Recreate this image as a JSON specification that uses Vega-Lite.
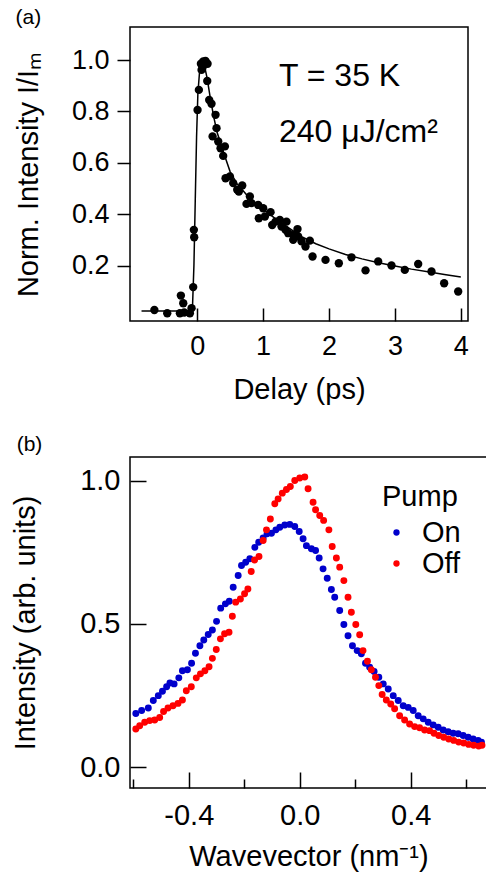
{
  "$schema": "https://vega.github.io/schema/vega-lite/v6.json",
  "padding": {"left": 10, "top": 6, "right": 0, "bottom": 0},
  "spacing": 28,
  "resolve": {"legend": {"color": "independent"}},
  "config": {
    "font": "Liberation Sans",
    "view": {"stroke": "black", "strokeWidth": 1.5},
    "axis": {
      "grid": false,
      "domain": false,
      "tickColor": "black",
      "tickWidth": 1.5,
      "labelColor": "black",
      "labelFont": "Liberation Sans",
      "labelFontSize": 27,
      "titleColor": "black",
      "titleFont": "Liberation Sans",
      "titleFontSize": 29,
      "titleFontWeight": "normal"
    },
    "legend": {
      "labelFont": "Liberation Sans",
      "titleFont": "Liberation Sans",
      "labelColor": "black",
      "titleColor": "black"
    },
    "title": {"font": "Liberation Sans", "fontSize": 21, "fontWeight": "normal", "color": "black", "anchor": "start"}
  },
  "datasets": {
    "decay_points": [
      {"delay": -0.65, "norm": 0.027}, {"delay": -0.455, "norm": 0.014}, {"delay": -0.263, "norm": 0.014},
      {"delay": -0.248, "norm": 0.083}, {"delay": -0.212, "norm": 0.053}, {"delay": -0.197, "norm": 0.017},
      {"delay": -0.111, "norm": 0.014}, {"delay": -0.086, "norm": 0.034}, {"delay": -0.061, "norm": 0.116},
      {"delay": -0.051, "norm": 0.339}, {"delay": -0.046, "norm": 0.31}, {"delay": 0.005, "norm": 0.806},
      {"delay": 0.025, "norm": 0.884}, {"delay": 0.056, "norm": 0.986}, {"delay": 0.066, "norm": 0.962},
      {"delay": 0.08, "norm": 0.97}, {"delay": 0.091, "norm": 0.995}, {"delay": 0.11, "norm": 0.985},
      {"delay": 0.126, "norm": 0.997}, {"delay": 0.157, "norm": 0.986}, {"delay": 0.152, "norm": 0.919},
      {"delay": 0.182, "norm": 0.845}, {"delay": 0.217, "norm": 0.83}, {"delay": 0.233, "norm": 0.703},
      {"delay": 0.278, "norm": 0.787}, {"delay": 0.293, "norm": 0.735}, {"delay": 0.319, "norm": 0.683},
      {"delay": 0.354, "norm": 0.657}, {"delay": 0.394, "norm": 0.627}, {"delay": 0.42, "norm": 0.664},
      {"delay": 0.43, "norm": 0.54}, {"delay": 0.496, "norm": 0.547}, {"delay": 0.546, "norm": 0.521},
      {"delay": 0.607, "norm": 0.495}, {"delay": 0.632, "norm": 0.488}, {"delay": 0.683, "norm": 0.512},
      {"delay": 0.748, "norm": 0.44}, {"delay": 0.799, "norm": 0.469}, {"delay": 0.824, "norm": 0.443},
      {"delay": 0.925, "norm": 0.436}, {"delay": 0.935, "norm": 0.384}, {"delay": 1.001, "norm": 0.423},
      {"delay": 1.027, "norm": 0.391}, {"delay": 1.113, "norm": 0.408}, {"delay": 1.138, "norm": 0.358},
      {"delay": 1.188, "norm": 0.371}, {"delay": 1.254, "norm": 0.378}, {"delay": 1.279, "norm": 0.352},
      {"delay": 1.34, "norm": 0.339}, {"delay": 1.355, "norm": 0.371}, {"delay": 1.381, "norm": 0.326},
      {"delay": 1.456, "norm": 0.3}, {"delay": 1.466, "norm": 0.319}, {"delay": 1.522, "norm": 0.342},
      {"delay": 1.532, "norm": 0.313}, {"delay": 1.583, "norm": 0.294}, {"delay": 1.643, "norm": 0.274},
      {"delay": 1.709, "norm": 0.297}, {"delay": 1.75, "norm": 0.235}, {"delay": 1.947, "norm": 0.222},
      {"delay": 2.149, "norm": 0.209}, {"delay": 2.341, "norm": 0.232}, {"delay": 2.554, "norm": 0.181},
      {"delay": 2.746, "norm": 0.216}, {"delay": 2.948, "norm": 0.2}, {"delay": 3.15, "norm": 0.183},
      {"delay": 3.353, "norm": 0.206}, {"delay": 3.555, "norm": 0.177}, {"delay": 3.747, "norm": 0.131},
      {"delay": 3.96, "norm": 0.099}
    ],
    "decay_fit": [
      {"delay": -0.845, "norm": 0.023}, {"delay": -0.1, "norm": 0.023}, {"delay": -0.07, "norm": 0.05},
      {"delay": -0.05, "norm": 0.2}, {"delay": -0.03, "norm": 0.45}, {"delay": -0.01, "norm": 0.7},
      {"delay": 0.01, "norm": 0.87}, {"delay": 0.04, "norm": 0.97}, {"delay": 0.07, "norm": 1.0},
      {"delay": 0.1, "norm": 0.99}, {"delay": 0.15, "norm": 0.93}, {"delay": 0.2, "norm": 0.85},
      {"delay": 0.25, "norm": 0.78}, {"delay": 0.3, "norm": 0.72}, {"delay": 0.4, "norm": 0.64},
      {"delay": 0.5, "norm": 0.565}, {"delay": 0.6, "norm": 0.52}, {"delay": 0.7, "norm": 0.49},
      {"delay": 0.8, "norm": 0.46}, {"delay": 0.9, "norm": 0.44}, {"delay": 1.0, "norm": 0.42},
      {"delay": 1.2, "norm": 0.38}, {"delay": 1.4, "norm": 0.345}, {"delay": 1.6, "norm": 0.31},
      {"delay": 1.8, "norm": 0.285}, {"delay": 2.0, "norm": 0.265}, {"delay": 2.25, "norm": 0.243},
      {"delay": 2.5, "norm": 0.226}, {"delay": 2.75, "norm": 0.211}, {"delay": 3.0, "norm": 0.198},
      {"delay": 3.25, "norm": 0.186}, {"delay": 3.5, "norm": 0.176}, {"delay": 3.75, "norm": 0.165},
      {"delay": 4.0, "norm": 0.155}
    ],
    "mdc": [
      {"k": -0.591, "intensity": 0.188, "pump": "On"}, {"k": -0.57, "intensity": 0.198, "pump": "On"},
      {"k": -0.546, "intensity": 0.207, "pump": "On"}, {"k": -0.528, "intensity": 0.233, "pump": "On"},
      {"k": -0.51, "intensity": 0.25, "pump": "On"}, {"k": -0.495, "intensity": 0.265, "pump": "On"},
      {"k": -0.48, "intensity": 0.281, "pump": "On"}, {"k": -0.468, "intensity": 0.294, "pump": "On"},
      {"k": -0.453, "intensity": 0.291, "pump": "On"}, {"k": -0.436, "intensity": 0.312, "pump": "On"},
      {"k": -0.423, "intensity": 0.337, "pump": "On"}, {"k": -0.405, "intensity": 0.34, "pump": "On"},
      {"k": -0.39, "intensity": 0.363, "pump": "On"}, {"k": -0.376, "intensity": 0.398, "pump": "On"},
      {"k": -0.36, "intensity": 0.424, "pump": "On"}, {"k": -0.346, "intensity": 0.444, "pump": "On"},
      {"k": -0.33, "intensity": 0.463, "pump": "On"}, {"k": -0.315, "intensity": 0.479, "pump": "On"},
      {"k": -0.3, "intensity": 0.509, "pump": "On"}, {"k": -0.285, "intensity": 0.555, "pump": "On"},
      {"k": -0.268, "intensity": 0.57, "pump": "On"}, {"k": -0.254, "intensity": 0.579, "pump": "On"},
      {"k": -0.24, "intensity": 0.628, "pump": "On"}, {"k": -0.222, "intensity": 0.669, "pump": "On"},
      {"k": -0.21, "intensity": 0.704, "pump": "On"}, {"k": -0.195, "intensity": 0.715, "pump": "On"},
      {"k": -0.18, "intensity": 0.727, "pump": "On"}, {"k": -0.162, "intensity": 0.767, "pump": "On"},
      {"k": -0.148, "intensity": 0.785, "pump": "On"}, {"k": -0.132, "intensity": 0.8, "pump": "On"},
      {"k": -0.118, "intensity": 0.814, "pump": "On"}, {"k": -0.102, "intensity": 0.816, "pump": "On"},
      {"k": -0.086, "intensity": 0.828, "pump": "On"}, {"k": -0.072, "intensity": 0.837, "pump": "On"},
      {"k": -0.054, "intensity": 0.845, "pump": "On"}, {"k": -0.036, "intensity": 0.847, "pump": "On"},
      {"k": -0.018, "intensity": 0.84, "pump": "On"}, {"k": -0.002, "intensity": 0.822, "pump": "On"},
      {"k": 0.012, "intensity": 0.797, "pump": "On"}, {"k": 0.024, "intensity": 0.773, "pump": "On"},
      {"k": 0.042, "intensity": 0.762, "pump": "On"}, {"k": 0.057, "intensity": 0.756, "pump": "On"},
      {"k": 0.07, "intensity": 0.73, "pump": "On"}, {"k": 0.084, "intensity": 0.692, "pump": "On"},
      {"k": 0.099, "intensity": 0.659, "pump": "On"}, {"k": 0.114, "intensity": 0.62, "pump": "On"},
      {"k": 0.126, "intensity": 0.593, "pump": "On"}, {"k": 0.144, "intensity": 0.547, "pump": "On"},
      {"k": 0.159, "intensity": 0.498, "pump": "On"}, {"k": 0.174, "intensity": 0.459, "pump": "On"},
      {"k": 0.19, "intensity": 0.424, "pump": "On"}, {"k": 0.207, "intensity": 0.407, "pump": "On"},
      {"k": 0.222, "intensity": 0.396, "pump": "On"}, {"k": 0.237, "intensity": 0.363, "pump": "On"},
      {"k": 0.252, "intensity": 0.349, "pump": "On"}, {"k": 0.268, "intensity": 0.334, "pump": "On"},
      {"k": 0.285, "intensity": 0.314, "pump": "On"}, {"k": 0.301, "intensity": 0.291, "pump": "On"},
      {"k": 0.319, "intensity": 0.273, "pump": "On"}, {"k": 0.337, "intensity": 0.25, "pump": "On"},
      {"k": 0.355, "intensity": 0.233, "pump": "On"}, {"k": 0.373, "intensity": 0.215, "pump": "On"},
      {"k": 0.391, "intensity": 0.209, "pump": "On"}, {"k": 0.409, "intensity": 0.198, "pump": "On"},
      {"k": 0.427, "intensity": 0.18, "pump": "On"}, {"k": 0.445, "intensity": 0.169, "pump": "On"},
      {"k": 0.463, "intensity": 0.157, "pump": "On"}, {"k": 0.481, "intensity": 0.148, "pump": "On"},
      {"k": 0.499, "intensity": 0.14, "pump": "On"}, {"k": 0.517, "intensity": 0.13, "pump": "On"},
      {"k": 0.535, "intensity": 0.124, "pump": "On"}, {"k": 0.553, "intensity": 0.119, "pump": "On"},
      {"k": 0.571, "intensity": 0.117, "pump": "On"}, {"k": 0.589, "intensity": 0.111, "pump": "On"},
      {"k": 0.607, "intensity": 0.105, "pump": "On"}, {"k": 0.625, "intensity": 0.099, "pump": "On"},
      {"k": 0.643, "intensity": 0.094, "pump": "On"}, {"k": 0.655, "intensity": 0.088, "pump": "On"},
      {"k": -0.591, "intensity": 0.134, "pump": "Off"}, {"k": -0.577, "intensity": 0.145, "pump": "Off"},
      {"k": -0.559, "intensity": 0.157, "pump": "Off"}, {"k": -0.541, "intensity": 0.163, "pump": "Off"},
      {"k": -0.523, "intensity": 0.165, "pump": "Off"}, {"k": -0.505, "intensity": 0.174, "pump": "Off"},
      {"k": -0.491, "intensity": 0.195, "pump": "Off"}, {"k": -0.475, "intensity": 0.207, "pump": "Off"},
      {"k": -0.457, "intensity": 0.215, "pump": "Off"}, {"k": -0.439, "intensity": 0.223, "pump": "Off"},
      {"k": -0.423, "intensity": 0.235, "pump": "Off"}, {"k": -0.409, "intensity": 0.267, "pump": "Off"},
      {"k": -0.391, "intensity": 0.281, "pump": "Off"}, {"k": -0.373, "intensity": 0.312, "pump": "Off"},
      {"k": -0.358, "intensity": 0.326, "pump": "Off"}, {"k": -0.342, "intensity": 0.337, "pump": "Off"},
      {"k": -0.327, "intensity": 0.351, "pump": "Off"}, {"k": -0.315, "intensity": 0.38, "pump": "Off"},
      {"k": -0.301, "intensity": 0.411, "pump": "Off"}, {"k": -0.286, "intensity": 0.448, "pump": "Off"},
      {"k": -0.271, "intensity": 0.466, "pump": "Off"}, {"k": -0.255, "intensity": 0.471, "pump": "Off"},
      {"k": -0.243, "intensity": 0.527, "pump": "Off"}, {"k": -0.231, "intensity": 0.576, "pump": "Off"},
      {"k": -0.214, "intensity": 0.587, "pump": "Off"}, {"k": -0.199, "intensity": 0.605, "pump": "Off"},
      {"k": -0.187, "intensity": 0.622, "pump": "Off"}, {"k": -0.175, "intensity": 0.683, "pump": "Off"},
      {"k": -0.163, "intensity": 0.723, "pump": "Off"}, {"k": -0.147, "intensity": 0.735, "pump": "Off"},
      {"k": -0.132, "intensity": 0.791, "pump": "Off"}, {"k": -0.12, "intensity": 0.828, "pump": "Off"},
      {"k": -0.106, "intensity": 0.866, "pump": "Off"}, {"k": -0.09, "intensity": 0.919, "pump": "Off"},
      {"k": -0.078, "intensity": 0.936, "pump": "Off"}, {"k": -0.063, "intensity": 0.956, "pump": "Off"},
      {"k": -0.048, "intensity": 0.969, "pump": "Off"}, {"k": -0.034, "intensity": 0.979, "pump": "Off"},
      {"k": -0.018, "intensity": 1.0, "pump": "Off"}, {"k": 0.0, "intensity": 1.009, "pump": "Off"},
      {"k": 0.018, "intensity": 1.012, "pump": "Off"}, {"k": 0.03, "intensity": 0.971, "pump": "Off"},
      {"k": 0.048, "intensity": 0.924, "pump": "Off"}, {"k": 0.057, "intensity": 0.898, "pump": "Off"},
      {"k": 0.072, "intensity": 0.878, "pump": "Off"}, {"k": 0.086, "intensity": 0.861, "pump": "Off"},
      {"k": 0.105, "intensity": 0.828, "pump": "Off"}, {"k": 0.117, "intensity": 0.77, "pump": "Off"},
      {"k": 0.132, "intensity": 0.73, "pump": "Off"}, {"k": 0.144, "intensity": 0.698, "pump": "Off"},
      {"k": 0.159, "intensity": 0.651, "pump": "Off"}, {"k": 0.174, "intensity": 0.593, "pump": "Off"},
      {"k": 0.186, "intensity": 0.541, "pump": "Off"}, {"k": 0.202, "intensity": 0.498, "pump": "Off"},
      {"k": 0.216, "intensity": 0.462, "pump": "Off"}, {"k": 0.228, "intensity": 0.407, "pump": "Off"},
      {"k": 0.244, "intensity": 0.37, "pump": "Off"}, {"k": 0.258, "intensity": 0.34, "pump": "Off"},
      {"k": 0.273, "intensity": 0.314, "pump": "Off"}, {"k": 0.285, "intensity": 0.285, "pump": "Off"},
      {"k": 0.297, "intensity": 0.254, "pump": "Off"}, {"k": 0.312, "intensity": 0.235, "pump": "Off"},
      {"k": 0.328, "intensity": 0.221, "pump": "Off"}, {"k": 0.342, "intensity": 0.204, "pump": "Off"},
      {"k": 0.36, "intensity": 0.18, "pump": "Off"}, {"k": 0.378, "intensity": 0.165, "pump": "Off"},
      {"k": 0.396, "intensity": 0.151, "pump": "Off"}, {"k": 0.414, "intensity": 0.142, "pump": "Off"},
      {"k": 0.432, "intensity": 0.138, "pump": "Off"}, {"k": 0.45, "intensity": 0.13, "pump": "Off"},
      {"k": 0.468, "intensity": 0.128, "pump": "Off"}, {"k": 0.484, "intensity": 0.119, "pump": "Off"},
      {"k": 0.501, "intensity": 0.111, "pump": "Off"}, {"k": 0.519, "intensity": 0.105, "pump": "Off"},
      {"k": 0.537, "intensity": 0.099, "pump": "Off"}, {"k": 0.555, "intensity": 0.094, "pump": "Off"},
      {"k": 0.573, "intensity": 0.088, "pump": "Off"}, {"k": 0.591, "intensity": 0.085, "pump": "Off"},
      {"k": 0.609, "intensity": 0.08, "pump": "Off"}, {"k": 0.627, "intensity": 0.077, "pump": "Off"},
      {"k": 0.645, "intensity": 0.074, "pump": "Off"}, {"k": 0.657, "intensity": 0.077, "pump": "Off"}
    ]
  },
  "vconcat": [
    {
      "title": {"text": "(a)", "dx": 1, "offset": -22, "baseline": "bottom"},
      "width": 338,
      "height": 294,
      "layer": [
        {
          "data": {"name": "decay_fit"},
          "mark": {"type": "line", "color": "black", "strokeWidth": 1.5},
          "encoding": {
            "x": {
              "field": "delay",
              "type": "quantitative",
              "scale": {"domain": [-1.02, 4.109], "nice": false, "zero": false},
              "axis": {"values": [0, 1, 2, 3, 4], "format": "d", "tickSize": -13, "labelPadding": 25, "title": "Delay (ps)", "titlePadding": 16}
            },
            "y": {
              "field": "norm",
              "type": "quantitative",
              "scale": {"domain": [-0.016, 1.129], "nice": false, "zero": false},
              "axis": {"values": [0.2, 0.4, 0.6, 0.8, 1.0], "format": ".1f", "tickSize": 13, "labelPadding": 8, "title": "Norm. Intensity I/Iₘ", "titlePadding": 28}
            }
          }
        },
        {
          "data": {"name": "decay_points"},
          "mark": {"type": "circle", "color": "black", "size": 70, "opacity": 1},
          "encoding": {
            "x": {"field": "delay", "type": "quantitative"},
            "y": {"field": "norm", "type": "quantitative"}
          }
        },
        {
          "data": {"values": [{"label": "T = 35 K"}]},
          "mark": {"type": "text", "align": "left", "baseline": "alphabetic", "fontSize": 32, "color": "black"},
          "encoding": {"x": {"datum": 1.24}, "y": {"datum": 0.9}, "text": {"field": "label"}}
        },
        {
          "data": {"values": [{"label": "240 μJ/cm²"}]},
          "mark": {"type": "text", "align": "left", "baseline": "alphabetic", "fontSize": 32, "color": "black"},
          "encoding": {"x": {"datum": 1.24}, "y": {"datum": 0.68}, "text": {"field": "label"}}
        }
      ]
    },
    {
      "title": {"text": "(b)", "dx": 5, "offset": -19, "baseline": "bottom"},
      "width": 357,
      "height": 331,
      "data": {"name": "mdc"},
      "mark": {"type": "circle", "size": 48, "opacity": 1},
      "encoding": {
        "x": {
          "field": "k",
          "type": "quantitative",
          "scale": {"domain": [-0.612, 0.675], "nice": false, "zero": false},
          "axis": {
            "values": [-0.6, -0.4, -0.2, 0, 0.2, 0.4, 0.6],
            "labelExpr": "abs(datum.value) < 0.01 ? '0.0' : abs(datum.value - 0.4) < 0.01 ? '0.4' : abs(datum.value + 0.4) < 0.01 ? '-0.4' : ''",
            "tickSize": {"condition": {"test": "abs(datum.value) < 0.01 || abs(abs(datum.value) - 0.4) < 0.01", "value": -16}, "value": -9},
            "labelPadding": 29.5,
            "labelFontSize": 29,
            "title": "Wavevector (nm⁻¹)",
            "titlePadding": 12
          }
        },
        "y": {
          "field": "intensity",
          "type": "quantitative",
          "scale": {"domain": [-0.072, 1.082], "nice": false, "zero": false},
          "axis": {
            "values": [0, 0.5, 1.0],
            "format": ".1f",
            "tickSize": -16,
            "labelPadding": 26,
            "labelFontSize": 29,
            "title": "Intensity (arb. units)",
            "titlePadding": 39
          }
        },
        "color": {
          "field": "pump",
          "type": "nominal",
          "scale": {"domain": ["On", "Off"], "range": ["#0000CC", "#FF0000"]},
          "legend": {
            "orient": "top-right",
            "offset": 26,
            "title": "Pump",
            "titleFontSize": 29,
            "titleFontWeight": "normal",
            "titlePadding": 6,
            "labelFontSize": 29,
            "symbolType": "circle",
            "symbolSize": 40,
            "symbolStrokeWidth": 0,
            "labelOffset": 11,
            "rowPadding": 1,
            "padding": 0
          }
        }
      }
    }
  ]
}
